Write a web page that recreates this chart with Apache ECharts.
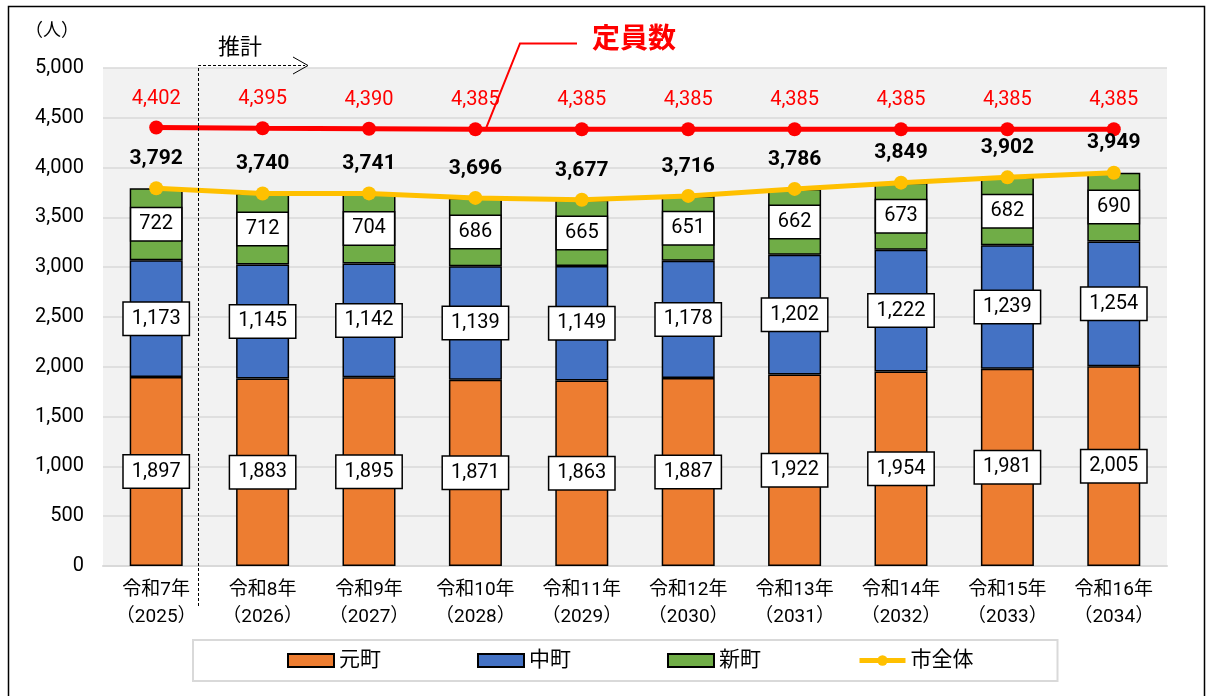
<!DOCTYPE html>
<html>
<head>
<meta charset="utf-8">
<script src="https://cdn.jsdelivr.net/npm/echarts@6/dist/echarts.min.js"></script>
<style>
  html, body { margin: 0; padding: 0; background: #fff; }
  #main { width: 1213px; height: 696px; }
</style>
</head>
<body>
<div id="main"></div>
<script>
// 年度ラベル
var years = ['令和7年\n（2025）', '令和8年\n（2026）', '令和9年\n（2027）', '令和10年\n（2028）', '令和11年\n（2029）',
  '令和12年\n（2030）', '令和13年\n（2031）', '令和14年\n（2032）', '令和15年\n（2033）', '令和16年\n（2034）'];
// 地区別
var motomachi = [1897, 1883, 1895, 1871, 1863, 1887, 1922, 1954, 1981, 2005];
var nakamachi = [1173, 1145, 1142, 1139, 1149, 1178, 1202, 1222, 1239, 1254];
var shinmachi = [722, 712, 704, 686, 665, 651, 662, 673, 682, 690];
// 市全体
var total = [3792, 3740, 3741, 3696, 3677, 3716, 3786, 3849, 3902, 3949];
// 定員数
var capacity = [4402, 4395, 4390, 4385, 4385, 4385, 4385, 4385, 4385, 4385];
var yTicks = [0, 500, 1000, 1500, 2000, 2500, 3000, 3500, 4000, 4500, 5000];

var FONT = 'Roboto, "Noto Sans CJK JP", sans-serif';

function fmt(v) {
  return String(v).replace(/\B(?=(\d{3})+(?!\d))/g, ',');
}

var boxLabel = {
  show: true,
  position: 'inside',
  formatter: function (p) { return fmt(p.value); },
  color: '#000',
  fontSize: 20,
  fontFamily: FONT,
  backgroundColor: '#fff',
  borderColor: '#000',
  borderWidth: 1.5,
  padding: [7, 8, 5, 8]
};

function barSeries(name, data, color) {
  return {
    name: name,
    type: 'bar',
    stack: 'area',
    barWidth: 53,
    data: data,
    itemStyle: { color: color, borderColor: '#000', borderWidth: 1.5 },
    label: boxLabel
  };
}

var chart = echarts.init(document.getElementById('main'));

var option = {
  animation: false,
  backgroundColor: '#fff',
  textStyle: { fontFamily: FONT },
  grid: {
    left: 103, right: 46, top: 68, bottom: 130,
    show: true, backgroundColor: '#f2f2f2', borderWidth: 0
  },
  legend: {
    data: [
      { name: '元町', icon: 'rect' },
      { name: '中町', icon: 'rect' },
      { name: '新町', icon: 'rect' },
      { name: '市全体', lineStyle: { width: 5 } }
    ],
    left: 193,
    top: 640,
    padding: [10, 84, 10, 94],
    itemGap: 96,
    itemWidth: 46,
    itemHeight: 13,
    borderColor: '#d9d9d9',
    borderWidth: 2,
    textStyle: { fontSize: 21, color: '#000', fontFamily: FONT }
  },
  xAxis: {
    type: 'category',
    data: years,
    axisLine: { lineStyle: { color: '#d9d9d9', width: 2 } },
    axisTick: { show: false },
    axisLabel: { color: '#000', fontSize: 19, lineHeight: 27, margin: 11, interval: 0 }
  },
  yAxis: {
    type: 'value',
    min: yTicks[0],
    max: yTicks[yTicks.length - 1],
    interval: 500,
    name: '（人）',
    nameGap: 28,
    nameTextStyle: { color: '#000', fontSize: 18, align: 'right', padding: [0, 24, 0, 0] },
    axisLine: { show: false },
    axisTick: { show: false },
    axisLabel: { color: '#000', fontSize: 20, margin: 19, formatter: function (v) { return fmt(v); } },
    splitLine: { lineStyle: { color: '#d9d9d9', width: 1.5 } }
  },
  series: [
    barSeries('元町', motomachi, '#ed7d31'),
    barSeries('中町', nakamachi, '#4472c4'),
    barSeries('新町', shinmachi, '#70ad47'),
    {
      name: '市全体',
      type: 'line',
      data: total,
      z: 5,
      color: '#ffc000',
      lineStyle: { color: '#ffc000', width: 5 },
      itemStyle: { color: '#ffc000' },
      symbol: 'circle',
      symbolSize: 14,
      label: {
        show: true, position: 'top', distance: 12,
        color: '#000', fontSize: 21, fontWeight: 'bold',
        formatter: function (p) { return fmt(p.value); }
      }
    },
    {
      name: '定員数',
      type: 'line',
      data: capacity,
      z: 5,
      color: '#ff0000',
      lineStyle: { color: '#ff0000', width: 5 },
      itemStyle: { color: '#ff0000' },
      symbol: 'circle',
      symbolSize: 14,
      label: {
        show: true, position: 'top', distance: 12,
        color: '#ff0000', fontSize: 20,
        formatter: function (p) { return fmt(p.value); }
      }
    }
  ]
};

chart.setOption(option);

// 定員数の引き出し線
var pt = chart.convertToPixel({ xAxisIndex: 0, yAxisIndex: 0 }, [3, capacity[3]]);

chart.setOption({
  graphic: [
    // 外枠
    { type: 'rect', shape: { x: 8.5, y: 6.5, width: 1196, height: 700 },
      style: { fill: null, stroke: '#000', lineWidth: 1.5 }, z: 100 },
    // 推計
    { type: 'polyline', shape: { points: [[198.5, 606], [198.5, 65.5], [305, 65.5]] },
      style: { stroke: '#000', lineWidth: 1, lineDash: [3, 2], fill: null }, z: 100 },
    { type: 'polyline', shape: { points: [[293, 57], [308, 65.5], [293, 74]] },
      style: { stroke: '#000', lineWidth: 1, fill: null }, z: 100 },
    { type: 'text', x: 218, y: 37,
      style: { text: '推計', fontSize: 22, fill: '#000', fontFamily: FONT }, z: 100 },
    // 定員数
    { type: 'polyline', shape: { points: [[pt[0] + 11, pt[1] - 2], [520, 43.5], [577, 43.5]] },
      style: { stroke: '#ff0000', lineWidth: 2, fill: null }, z: 100 },
    { type: 'text', x: 592, y: 27,
      style: { text: '定員数', fontSize: 28, fontWeight: 'bold', fill: '#ff0000', fontFamily: FONT }, z: 100 }
  ]
});
</script>
</body>
</html>
